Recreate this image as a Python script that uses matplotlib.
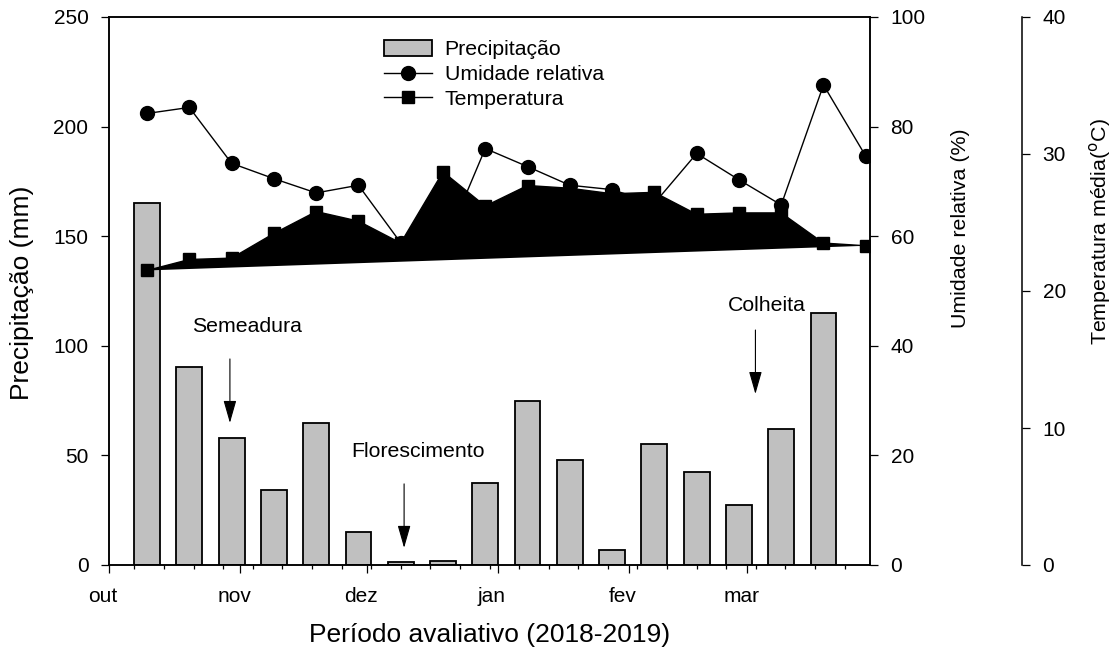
import matplotlib
matplotlib.use("Agg")
import matplotlib.pyplot as plt
from matplotlib.patches import Patch
from matplotlib.lines import Line2D
from matplotlib.transforms import ScaledTranslation

plt.rcParams["font.family"] = ["Liberation Sans", "DejaVu Sans"]

# dias contados a partir de 1 de outubro de 2018 (decêndios)
dias = [9, 19, 29, 39, 49, 59, 69, 79, 89, 99, 109, 119, 129, 139, 149, 159, 169, 179]
precip = [165, 90.5, 58, 34, 65, 15, 1.5, 2, 37.5, 75, 48, 7, 55, 42.5, 27.5, 62, 115]
umidade = [82.4, 83.5, 73.3, 70.5, 67.9, 69.3, 58.8, 57.7, 76.0, 72.7,
           69.3, 68.5, 66.0, 75.1, 70.3, 65.7, 87.6, 74.6]
temperatura = [21.5, 22.3, 22.4, 24.2, 25.8, 25.1, 23.5, 28.7, 26.2, 27.7,
               27.5, 27.1, 27.2, 25.6, 25.7, 25.7, 23.5, 23.3]

meses = ["out", "nov", "dez", "jan", "fev", "mar"]
inicio_mes = [0, 31, 61, 92, 123, 151]
semanas = list(range(6, 181, 7))

BAR_FC = "#C0C0C0"
FS_TICK = 15
FS_LAB = 19

fig = plt.figure(figsize=(11.2, 6.54), dpi=100)
ax1 = fig.add_axes([109 / 1120, 89 / 654, 761 / 1120, 548 / 654])
ax2 = ax1.twinx()
ax3 = ax1.twinx()
ax3.spines["right"].set_position(("outward", 152 * 0.72))

# barras de precipitação
ax1.bar(dias[:len(precip)], precip, width=6.1, color=BAR_FC,
        edgecolor="black", linewidth=1.3, zorder=2)
ax1.set_xlim(0, 180)
ax1.set_ylim(0, 250)
ax1.set_yticks([0, 50, 100, 150, 200, 250])
ax1.set_xticks(inicio_mes)
ax1.set_xticklabels(meses)
ax1.set_xticks(semanas, minor=True)

# umidade relativa
ax2.plot(dias, umidade, color="black", lw=1.0, marker="o", ms=10,
         zorder=3)
ax2.set_ylim(0, 100)
ax2.set_yticks([0, 20, 40, 60, 80, 100])

# temperatura (área preenchida)
ax3.fill(dias, temperatura, color="black", lw=0, zorder=2)
ax3.plot(dias, temperatura, color="black", lw=1.0, marker="s", ms=9,
         zorder=3)
ax3.set_ylim(0, 40)
ax3.set_yticks([0, 10, 20, 30, 40])

for ax in (ax1, ax2, ax3):
    for s in ax.spines.values():
        s.set_linewidth(1.1)
    ax.tick_params(axis="both", which="major", direction="out",
                   length=5.8, width=0.9, labelsize=FS_TICK, pad=9)
    ax.tick_params(axis="both", which="minor", direction="out",
                   length=3, width=0.9)
ax3.spines["top"].set_visible(False)
ax3.spines["left"].set_visible(False)
ax3.spines["bottom"].set_visible(False)
ax1.tick_params(axis="x", pad=10)

off = ScaledTranslation(-6 / 100, 0, fig.dpi_scale_trans)
for lab in ax1.get_xticklabels():
    lab.set_transform(lab.get_transform() + off)

# rótulos dos eixos
fig.text(21.7 / 1120, 1 - 293 / 654, "Precipitação (mm)", rotation=90,
         ha="center", va="center", fontsize=FS_LAB)
fig.text(490 / 1120, 1 - 635 / 654, "Período avaliativo (2018-2019)",
         ha="center", va="center", fontsize=FS_LAB)
fig.text(960 / 1120, 1 - 228 / 654, "Umidade relativa (%)", rotation=90,
         ha="center", va="center", fontsize=15.4)
fig.text(1100 / 1120, 1 - 232 / 654, "Temperatura média($^{\\mathrm{o}}$C)",
         rotation=90, ha="center", va="center", fontsize=15.4)

# estádios fenológicos
arrow = dict(arrowstyle="-|>,head_length=0.7,head_width=0.2",
             color="black", lw=0.8, shrinkA=0, shrinkB=0,
             mutation_scale=20)
eventos = [
    ("Semeadura", 28.6, 94, 64.8, 32.6, 108.7),
    ("Florescimento", 69.8, 37, 7.8, 73.1, 51.6),
    ("Colheita", 152.9, 107.2, 78, 155.7, 118.6),
]
for nome, xa, y0, y1, xt, yt in eventos:
    ax1.annotate("", xy=(xa, y1), xytext=(xa, y0), arrowprops=arrow,
                 zorder=5)
    ax1.text(xt, yt, nome, ha="center", va="center", fontsize=15.3)

handles = [
    Patch(facecolor=BAR_FC, edgecolor="black", linewidth=1.3),
    Line2D([], [], color="black", lw=1.0, marker="o", ms=10),
    Line2D([], [], color="black", lw=1.0, marker="s", ms=8),
]
ax3.legend(handles, ["Precipitação", "Umidade relativa", "Temperatura"],
           loc="upper left", bbox_to_anchor=((384 - 109) / 761, 1 - 23 / 548),
           frameon=False, fontsize=15.3, handlelength=2.25,
           handleheight=0.75, handletextpad=0.6, labelspacing=0.27,
           borderpad=0, borderaxespad=0)

fig.savefig("out.png", dpi=100)
